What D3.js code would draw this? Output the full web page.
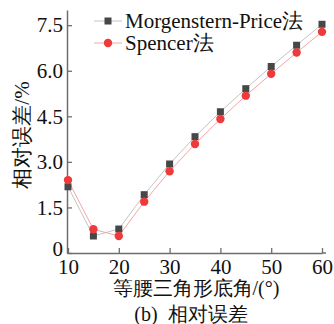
<!DOCTYPE html>
<html>
<head>
<meta charset="utf-8">
<script src="https://cdn.jsdelivr.net/npm/d3@7"></script>
<style>
  html, body { margin: 0; padding: 0; background: #fff; }
  svg { display: block; }
  svg text { font-family: "Times New Roman", Times, "Liberation Serif", "DejaVu Serif", serif; }
</style>
</head>
<body>
<svg id="chart" width="334" height="324"></svg>
<script>
// Base angle of the isosceles triangle (degrees)
const angles = [10, 15, 20, 25, 30, 35, 40, 45, 50, 55, 60];
// Relative error (%) for each method
const mpError = [2.18, 0.56, 0.79, 1.92, 2.93, 3.83, 4.65, 5.41, 6.14, 6.84, 7.53];
const spencerError = [2.40, 0.78, 0.56, 1.69, 2.69, 3.59, 4.41, 5.18, 5.90, 6.60, 7.28];
const xTicks = [10, 20, 30, 40, 50, 60];
const yTicks = [0, 1.5, 3.0, 4.5, 6.0, 7.5];
const yTickLabels = ["0", "1.5", "3.0", "4.5", "6.0", "7.5"];
const seriesNames = ["Morgenstern-Price法", "Spencer法"];

const svg = d3.select("#chart");
const axisColor = "#6e6e6e";

const x = d3.scaleLinear().domain([10, 60]).range([68, 322]);
const y = d3.scaleLinear().domain([0, 8]).range([253, 10]);

// X axis with inward ticks
const xAxis = svg.append("g")
  .attr("transform", `translate(0,${y(0)})`)
  .call(d3.axisBottom(x).tickValues(xTicks).tickSizeInner(-5).tickSizeOuter(0).tickPadding(6));
// Y axis with inward ticks
const yAxis = svg.append("g")
  .attr("transform", `translate(${x(10) - 1},0)`)
  .call(d3.axisLeft(y).tickValues(yTicks).tickSizeInner(-5).tickSizeOuter(0).tickPadding(4)
    .tickFormat((d, i) => yTickLabels[i]));

[xAxis, yAxis].forEach(g => {
  g.attr("font-family", null).attr("font-size", null);
  g.select(".domain").attr("stroke", axisColor).attr("stroke-width", 1.5);
  g.selectAll(".tick line").attr("stroke", axisColor).attr("stroke-width", 1.3);
  g.selectAll(".tick text").attr("fill", "#111").style("font-size", "21px");
});
// lift the zero label so it clears the x-axis labels
yAxis.selectAll(".tick text").filter(d => d === 0).attr("dy", "0.1em");
// extend the x axis line slightly past the last tick
svg.append("line")
  .attr("x1", x(60)).attr("x2", x(60) + 4)
  .attr("y1", y(0)).attr("y2", y(0))
  .attr("stroke", axisColor).attr("stroke-width", 1.5);

const series = [
  { name: seriesNames[0], values: mpError, line: "#c4c4c4", mark: "#474747", shape: "square" },
  { name: seriesNames[1], values: spencerError, line: "#f3a6a6", mark: "#ee3a3a", shape: "circle" }
];

const lineGen = d3.line().x((d, i) => x(angles[i])).y(d => y(d));

function drawMarker(g, shape, color, cx, cy) {
  if (shape === "square") {
    g.append("rect").attr("x", cx - 3.5).attr("y", cy - 3.5).attr("width", 7).attr("height", 7).attr("fill", color);
  } else {
    g.append("circle").attr("cx", cx).attr("cy", cy).attr("r", 4.2).attr("fill", color);
  }
}

series.forEach(s => {
  svg.append("path").datum(s.values)
    .attr("d", lineGen).attr("fill", "none").attr("stroke", s.line).attr("stroke-width", 1);
});
series.forEach(s => {
  const g = svg.append("g");
  s.values.forEach((v, i) => drawMarker(g, s.shape, s.mark, x(angles[i]), y(v)));
});

// Legend
series.forEach((s, i) => {
  const ly = 21 + i * 22;
  const g = svg.append("g");
  g.append("line").attr("x1", 94).attr("x2", 122).attr("y1", ly).attr("y2", ly)
    .attr("stroke", s.line).attr("stroke-width", 1);
  drawMarker(g, s.shape, s.mark, 108, ly);
  g.append("text").attr("x", 125).attr("y", ly).attr("dy", "0.35em")
    .style("font-size", "21px").attr("fill", "#111")
    .text(s.name);
});

// Axis titles and caption
svg.append("text").attr("x", 196).attr("y", 288).attr("dy", "0.35em").attr("text-anchor", "middle")
  .style("font-size", "20px").attr("fill", "#111")
  .text("等腰三角形底角/(°)");
svg.append("text").attr("transform", "translate(22,135) rotate(-90)").attr("dy", "0.35em").attr("text-anchor", "middle")
  .style("font-size", "21px").attr("fill", "#111")
  .text("相对误差/%");
svg.append("text").attr("x", 191).attr("y", 314).attr("dy", "0.35em").attr("text-anchor", "middle")
  .style("font-size", "20px").attr("fill", "#111")
  .attr("xml:space", "preserve")
  .text("(b)  相对误差");
</script>
</body>
</html>
